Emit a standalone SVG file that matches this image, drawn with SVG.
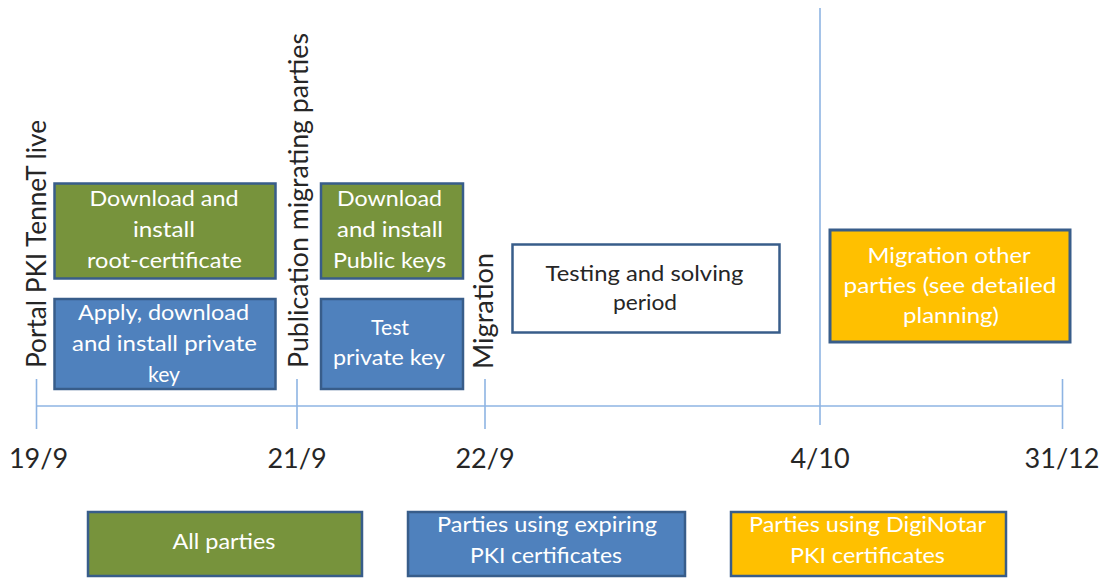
<svg xmlns="http://www.w3.org/2000/svg" width="1102" height="578" viewBox="0 0 1102 578">
<style>
.box{stroke:#385D8A;stroke-width:2.5}
.g{fill:#77933C}.b{fill:#4F81BD}.y{fill:#FFC000}.w{fill:#FFFFFF}
.ln{stroke:#8EB4E3;stroke-width:1.6;fill:none}
text{font-family:Lato,"Liberation Sans",sans-serif}
.t{fill:#FFFFFF;font-size:21px;text-anchor:middle}
.lg{fill:#FFFFFF;font-size:22px;text-anchor:middle}
.d{fill:#262626;font-size:21px;text-anchor:middle}
.v{fill:#262626;font-size:26px}
.dt{fill:#262626;font-size:27px;text-anchor:middle}
</style>
<rect width="1102" height="578" fill="#FFFFFF"/>
<g id="connectors">
<line class="ln" x1="36.5" y1="406" x2="1062.5" y2="406"/>
<line class="ln" x1="36.5" y1="379" x2="36.5" y2="429"/>
<line class="ln" x1="297" y1="379" x2="297" y2="429"/>
<line class="ln" x1="485" y1="379" x2="485" y2="429"/>
<line class="ln" x1="820" y1="8" x2="820" y2="425"/>
<line class="ln" x1="1062.5" y1="379" x2="1062.5" y2="429"/>
</g>
<g id="milestones">
<text class="v" transform="translate(46,368) rotate(-90)" textLength="248" lengthAdjust="spacingAndGlyphs">Portal PKI TenneT live</text>
<text class="v" transform="translate(308,368) rotate(-90)" textLength="335" lengthAdjust="spacingAndGlyphs">Publication migrating parties</text>
<text class="v" transform="translate(493,369) rotate(-90)" textLength="116" lengthAdjust="spacingAndGlyphs">Migration</text>
</g>
<g id="dates">
<text class="dt" x="38.5" y="468">19/9</text>
<text class="dt" x="297" y="468">21/9</text>
<text class="dt" x="485" y="468">22/9</text>
<text class="dt" x="820" y="468">4/10</text>
<text class="dt" x="1062" y="468">31/12</text>
</g>
<g id="root-cert">
<rect class="box g" x="54.5" y="183.5" width="221" height="95"/>
<text class="t" x="164" y="206" textLength="149" lengthAdjust="spacingAndGlyphs">Download and</text>
<text class="t" x="164" y="237" textLength="62" lengthAdjust="spacingAndGlyphs">install</text>
<text class="t" x="164.5" y="268" textLength="155" lengthAdjust="spacingAndGlyphs">root-certificate</text>
</g>
<g id="private-key">
<rect class="box b" x="54.5" y="299" width="221" height="90"/>
<text class="t" x="163.5" y="320" textLength="171" lengthAdjust="spacingAndGlyphs">Apply, download</text>
<text class="t" x="164.5" y="351" textLength="185" lengthAdjust="spacingAndGlyphs">and install private</text>
<text class="t" x="164" y="382" textLength="32" lengthAdjust="spacingAndGlyphs">key</text>
</g>
<g id="public-keys">
<rect class="box g" x="321" y="183.5" width="142" height="95"/>
<text class="t" x="389.5" y="206" textLength="105" lengthAdjust="spacingAndGlyphs">Download</text>
<text class="t" x="390" y="237" textLength="106" lengthAdjust="spacingAndGlyphs">and install</text>
<text class="t" x="389.5" y="268" textLength="113" lengthAdjust="spacingAndGlyphs">Public keys</text>
</g>
<g id="test-key">
<rect class="box b" x="321" y="299" width="142" height="90"/>
<text class="t" x="390" y="335" textLength="38" lengthAdjust="spacingAndGlyphs">Test</text>
<text class="t" x="389" y="365" textLength="112" lengthAdjust="spacingAndGlyphs">private key</text>
</g>
<g id="testing">
<rect class="box w" x="512.5" y="244.5" width="267" height="88"/>
<text class="d" x="644.5" y="281" textLength="198" lengthAdjust="spacingAndGlyphs">Testing and solving</text>
<text class="d" x="645" y="310" textLength="64" lengthAdjust="spacingAndGlyphs">period</text>
</g>
<g id="migration-other">
<rect class="box y" x="830" y="230" width="240" height="112" style="stroke-width:3"/>
<text class="t" x="949" y="263" textLength="163" lengthAdjust="spacingAndGlyphs">Migration other</text>
<text class="t" x="950" y="293" textLength="213" lengthAdjust="spacingAndGlyphs">parties (see detailed</text>
<text class="t" x="951" y="323" textLength="96" lengthAdjust="spacingAndGlyphs">planning)</text>
</g>
<g id="legend-all">
<rect class="box g" x="88" y="512" width="274" height="64"/>
<text class="lg" x="224" y="549" textLength="103" lengthAdjust="spacingAndGlyphs">All parties</text>
</g>
<g id="legend-expiring">
<rect class="box b" x="408" y="512" width="277" height="64"/>
<text class="lg" x="547" y="532" textLength="220" lengthAdjust="spacingAndGlyphs">Parties using expiring</text>
<text class="lg" x="546" y="563" textLength="152" lengthAdjust="spacingAndGlyphs">PKI certificates</text>
</g>
<g id="legend-diginotar">
<rect class="box y" x="731" y="512" width="275" height="64"/>
<text class="lg" x="867.5" y="532" textLength="237" lengthAdjust="spacingAndGlyphs">Parties using DigiNotar</text>
<text class="lg" x="867.5" y="563" textLength="155" lengthAdjust="spacingAndGlyphs">PKI certificates</text>
</g>
</svg>
